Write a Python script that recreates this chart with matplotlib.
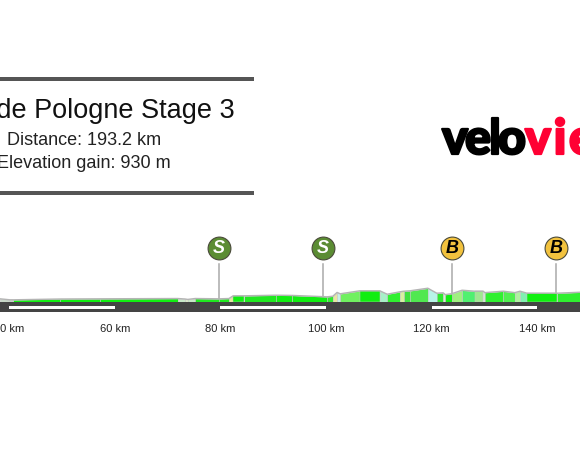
import matplotlib
matplotlib.use("Agg")
import matplotlib.pyplot as plt
import matplotlib.patheffects as pe
from matplotlib.patches import Rectangle

plt.rcParams['font.family'] = ['Liberation Sans', 'DejaVu Sans']

title = "Tour de Pologne Stage 3"
distance_text = "Distance: 193.2 km"
gain_text = "Elevation gain: 930 m"

# profile, elevation is relative to the road bar
km = [36.3, 38.2, 40.1, 40.7, 49.6, 57.2, 71.9, 73.3, 73.8, 75.2, 79.7, 81.6, 82.4, 84.5,
      90.5, 93.6, 100.2, 101.3, 102.1, 102.7, 106.4, 110.2, 111.6, 114.0, 114.8, 115.9,
      119.3, 121.0, 122.2, 122.6, 123.9, 125.8, 128.2, 129.8, 130.1, 133.6, 135.8, 136.8,
      138.1, 143.8, 150.0]
elev = [32, 32, 22, 22, 30, 32, 35, 30, 26, 35, 32, 35, 62, 62,
        68, 66, 52, 58, 96, 82, 112, 112, 78, 102, 108, 112,
        138, 88, 92, 74, 84, 118, 108, 108, 94, 108, 94, 108,
        88, 88, 102]
seg_colors = ['#20e820', '#c8d8c8', '#c8d8c8', '#12ee12', '#12ee12', '#12ee12', '#c8e8c8', '#d8e8c8',
              '#c8e8c8', '#20e820', '#20e820', '#e8e8a0', '#12ee12', '#20e820',
              '#12ee12', '#12ee12', '#30e830', '#e8e8a0', '#c8f0e8', '#70f060', '#12ee12', '#a8f0c8',
              '#30f030', '#d8f0a0', '#40e040', '#50e850', '#b8f4e8', '#30e830', '#d8f0d0', '#12ee12',
              '#a0f080', '#50f070', '#a0e890', '#d0e8d0', '#30f030', '#50f050', '#b0f0a0', '#80f0b0',
              '#10f010', '#30f030']

road_km = [30, 155]
stripe_km = [(40, 60), (80, 100), (120, 140)]
tick_km = [40, 60, 80, 100, 120, 140]

sprint_km = [79.7, 99.4]
bonus_km = [123.9, 143.6]

logo_black = [("v", 455), ("e", 478), ("l", 495), ("o", 512)]
logo_red = [("v", 538), ("i", 560), ("e", 582)]

W, H = 580, 469
fig = plt.figure(figsize=(W / 100, H / 100), dpi=100)
ax = fig.add_axes([0, 0, 1, 1])
# 5.275 px per km, 10 m per px, road top at y=302
ax.set_xlim(60 - 115 / 5.275, 60 + 465 / 5.275)
ax.set_ylim(-(H - 302) * 10, 302 * 10)
ax.axis("off")

for i in range(len(seg_colors)):
    ax.fill_between(km[i:i + 2], elev[i:i + 2], 0, color=seg_colors[i], ec='#c4c4c4', lw=0.35, zorder=2)
ax.plot(km, elev, color='#b4b4b4', lw=1.0, zorder=3)

ax.fill_between(road_km, -100, 0, color='#444444', lw=0, zorder=4)
for a, b in stripe_km:
    ax.fill_between([a, b], -65, -40, color='white', lw=0, zorder=5)

for t in tick_km:
    ax.text(t, -265, f"{t} km", ha='center', va='center', fontsize=8, color='#222222')

for k_list, face, letter, col in [(sprint_km, '#5b8c33', 'S', 'white'), (bonus_km, '#f2c23e', 'B', 'black')]:
    for k in k_list:
        ax.plot([k, k], [30, 380], color='#aaaaaa', lw=1.1, zorder=1)
        ax.scatter([k], [540], s=270, color=face, ec='#4a4a3a', lw=0.8, zorder=6)
        ax.text(k, 538, letter, ha='center', va='center', fontsize=13, fontweight='bold',
                style='italic', color=col, zorder=7)


def px(x, y):
    return x / W, 1 - y / H


for y in [79, 193]:
    fig.add_artist(Rectangle((0, 1 - (y + 2) / H), 254 / W, 4 / H, transform=fig.transFigure,
                             color='#555555', lw=0))

fig.text(*px(85, 118), title, ha='center', va='baseline', fontsize=19.5, color='#111111')
fig.text(*px(84, 145), distance_text, ha='center', va='baseline', fontsize=13, color='#222222')
fig.text(*px(84, 167.7), gain_text, ha='center', va='baseline', fontsize=13, color='#222222')

for letters, col in [(logo_black, 'black'), (logo_red, '#ff0033')]:
    for ch, x in letters:
        t = fig.text(*px(x, 154), ch, ha='center', va='baseline', fontsize=35, family='Lato',
                     fontweight='black', color=col)
        t.set_path_effects([pe.withStroke(linewidth=1.6, foreground=col)])

fig.savefig("out.png", dpi=100)
